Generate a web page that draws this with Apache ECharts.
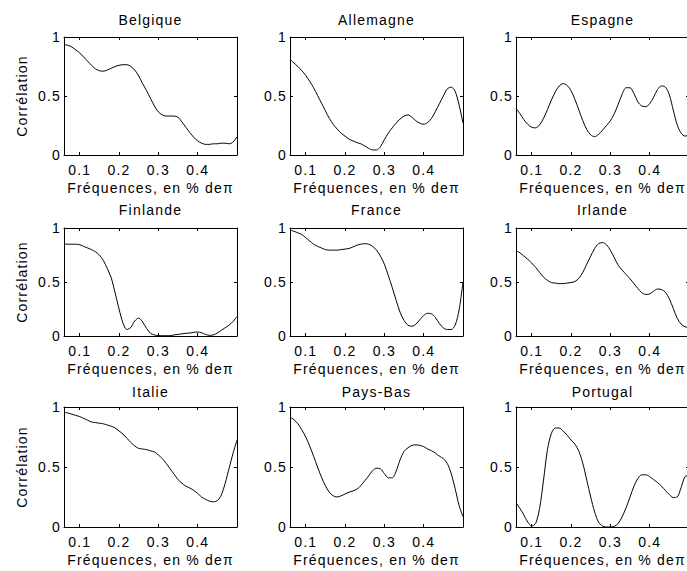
<!DOCTYPE html>
<html>
<head>
<meta charset="utf-8">
<script src="https://cdn.jsdelivr.net/npm/echarts@6/dist/echarts.min.js"></script>
<style>
html,body{margin:0;padding:0;background:#fff;}
#c{width:687px;height:571px;letter-spacing:1.2px;}
</style>
</head>
<body>
<div id="c"></div>
<script>
const countries = ['Belgique','Allemagne','Espagne','Finlande','France','Irlande','Italie','Pays-Bas','Portugal'];
const xName = 'Fréquences, en % deπ';
const yName = 'Corrélation';
const xTicks = [0.1, 0.2, 0.3, 0.4];
const freq = [0.06,0.07,0.08,0.09,0.10,0.11,0.12,0.13,0.14,0.15,0.16,0.17,0.18,0.19,0.20,0.21,0.22,0.23,0.24,0.25,0.26,0.27,0.28,0.29,0.30,0.31,0.32,0.33,0.34,0.35,0.36,0.37,0.38,0.39,0.40,0.41,0.42,0.43,0.44,0.45,0.46,0.47,0.48,0.49,0.50];

const belgique = [0.935,0.93,0.915,0.89,0.865,0.83,0.795,0.76,0.73,0.715,0.71,0.72,0.735,0.75,0.76,0.765,0.765,0.75,0.72,0.67,0.605,0.545,0.48,0.415,0.365,0.34,0.33,0.33,0.33,0.32,0.28,0.235,0.19,0.15,0.12,0.10,0.09,0.09,0.095,0.095,0.10,0.10,0.095,0.11,0.155];
const allemagne = [0.81,0.78,0.75,0.715,0.675,0.625,0.57,0.505,0.44,0.375,0.31,0.26,0.22,0.185,0.16,0.135,0.12,0.105,0.095,0.077,0.057,0.043,0.043,0.07,0.13,0.185,0.23,0.27,0.305,0.33,0.34,0.32,0.29,0.27,0.26,0.275,0.31,0.37,0.435,0.50,0.56,0.575,0.54,0.425,0.27];
const espagne = [0.395,0.35,0.30,0.26,0.235,0.23,0.255,0.31,0.385,0.465,0.535,0.585,0.605,0.59,0.545,0.47,0.38,0.29,0.215,0.17,0.155,0.175,0.21,0.25,0.29,0.35,0.43,0.515,0.57,0.57,0.52,0.45,0.415,0.41,0.435,0.49,0.555,0.585,0.575,0.51,0.38,0.255,0.185,0.16,0.17];
const finlande = [0.85,0.85,0.85,0.85,0.845,0.83,0.815,0.80,0.78,0.75,0.70,0.625,0.54,0.40,0.25,0.12,0.06,0.08,0.14,0.165,0.13,0.07,0.025,0.01,0.003,0.003,0.003,0.003,0.01,0.015,0.02,0.025,0.028,0.034,0.037,0.03,0.015,0.006,0.01,0.028,0.052,0.077,0.10,0.135,0.18];
const france = [0.98,0.97,0.955,0.94,0.91,0.88,0.85,0.83,0.815,0.80,0.795,0.795,0.795,0.80,0.805,0.81,0.825,0.84,0.85,0.855,0.85,0.83,0.795,0.74,0.665,0.56,0.45,0.33,0.22,0.145,0.10,0.09,0.11,0.15,0.19,0.21,0.205,0.17,0.115,0.075,0.06,0.06,0.10,0.24,0.50];
const irlande = [0.79,0.77,0.74,0.71,0.675,0.635,0.59,0.545,0.515,0.495,0.49,0.485,0.485,0.49,0.495,0.505,0.535,0.59,0.665,0.74,0.81,0.855,0.865,0.845,0.795,0.725,0.655,0.61,0.57,0.53,0.485,0.44,0.40,0.385,0.39,0.415,0.435,0.43,0.405,0.345,0.255,0.165,0.11,0.085,0.08];
const italie = [0.955,0.95,0.94,0.93,0.92,0.905,0.89,0.875,0.87,0.865,0.86,0.85,0.84,0.825,0.80,0.775,0.74,0.705,0.675,0.655,0.65,0.645,0.635,0.625,0.60,0.57,0.53,0.485,0.44,0.395,0.365,0.34,0.325,0.305,0.28,0.25,0.23,0.215,0.21,0.22,0.265,0.365,0.49,0.615,0.725];
const paysBas = [0.915,0.895,0.86,0.81,0.75,0.675,0.59,0.50,0.415,0.345,0.29,0.26,0.25,0.26,0.275,0.29,0.30,0.315,0.345,0.385,0.425,0.47,0.49,0.485,0.445,0.41,0.41,0.465,0.56,0.63,0.66,0.68,0.685,0.68,0.67,0.65,0.635,0.615,0.59,0.57,0.53,0.445,0.32,0.18,0.085];
const portugal = [0.20,0.155,0.10,0.04,0.008,0.03,0.155,0.39,0.645,0.78,0.825,0.825,0.80,0.765,0.725,0.69,0.63,0.53,0.39,0.25,0.125,0.04,0.008,0.0,0.0,0.005,0.03,0.085,0.16,0.25,0.34,0.405,0.435,0.435,0.42,0.395,0.37,0.34,0.305,0.27,0.245,0.25,0.33,0.42,0.43];

const values = [belgique, allemagne, espagne, finlande, france, irlande, italie, paysBas, portugal];

const chart = echarts.init(document.getElementById('c'), null, {renderer: 'svg'});
const colLeft = [64, 290, 516];
const rowTop = [37, 228, 407];
const rowH = [118, 108, 120];
const titleTop = [12, 202, 384];
const W = 173;
const FONT = {fontFamily: '"Liberation Sans", Arial, sans-serif', fontSize: 14, color: '#000', fontWeight: 'normal'};
const lineSt = {color: '#000', width: 1};

const grids = [], xAxes = [], yAxes = [], series = [], titles = [];
for (let i = 0; i < 9; i++) {
  const r = Math.floor(i / 3), c = i % 3;
  grids.push({left: colLeft[c], top: rowTop[r], width: W, height: rowH[r], containLabel: false, outerBoundsMode: 'none'});
  xAxes.push({
    gridIndex: i, type: 'value', min: 0.06, max: 0.5, position: 'bottom',
    axisLine: {show: true, onZero: false, lineStyle: lineSt},
    axisTick: {show: true, inside: true, length: 3, customValues: xTicks, lineStyle: lineSt},
    axisLabel: {show: true, customValues: xTicks, margin: 8, formatter: v => String(+(+v).toFixed(1)), ...FONT},
    splitLine: {show: false},
    name: xName, nameLocation: 'middle', nameGap: 26, nameMoveOverlap: false, nameTextStyle: FONT
  });
  xAxes.push({
    gridIndex: i, type: 'value', min: 0.06, max: 0.5, position: 'top',
    axisLine: {show: true, onZero: false, lineStyle: lineSt},
    axisTick: {show: true, inside: true, length: 3, customValues: xTicks, lineStyle: lineSt},
    axisLabel: {show: false}, splitLine: {show: false}
  });
  yAxes.push({
    gridIndex: i, type: 'value', min: 0, max: 1, interval: 0.5, position: 'left',
    axisLine: {show: true, onZero: false, lineStyle: lineSt},
    axisTick: {show: true, inside: true, length: 3, lineStyle: lineSt},
    axisLabel: {show: true, margin: 3, ...FONT},
    splitLine: {show: false},
    name: c === 0 ? yName : '', nameLocation: 'middle', nameGap: 35, nameRotate: 90, nameMoveOverlap: false, nameTextStyle: FONT
  });
  yAxes.push({
    gridIndex: i, type: 'value', min: 0, max: 1, interval: 0.5, position: 'right',
    axisLine: {show: true, onZero: false, lineStyle: lineSt},
    axisTick: {show: true, inside: true, length: 3, lineStyle: lineSt},
    axisLabel: {show: false}, splitLine: {show: false}
  });
  series.push({
    type: 'line', xAxisIndex: 2 * i, yAxisIndex: 2 * i,
    data: values[i].map((v, k) => [freq[k], v]),
    showSymbol: false, smooth: 0.3, clip: true, silent: true,
    lineStyle: {color: '#000', width: 1}
  });
  titles.push({
    text: countries[i], left: colLeft[c] + W / 2, top: titleTop[r], textAlign: 'center', padding: 0,
    textStyle: {...FONT, lineHeight: 15}
  });
}

chart.setOption({
  animation: false,
  backgroundColor: '#fff',
  title: titles,
  grid: grids,
  xAxis: xAxes,
  yAxis: yAxes,
  series: series
});
</script>
</body>
</html>
